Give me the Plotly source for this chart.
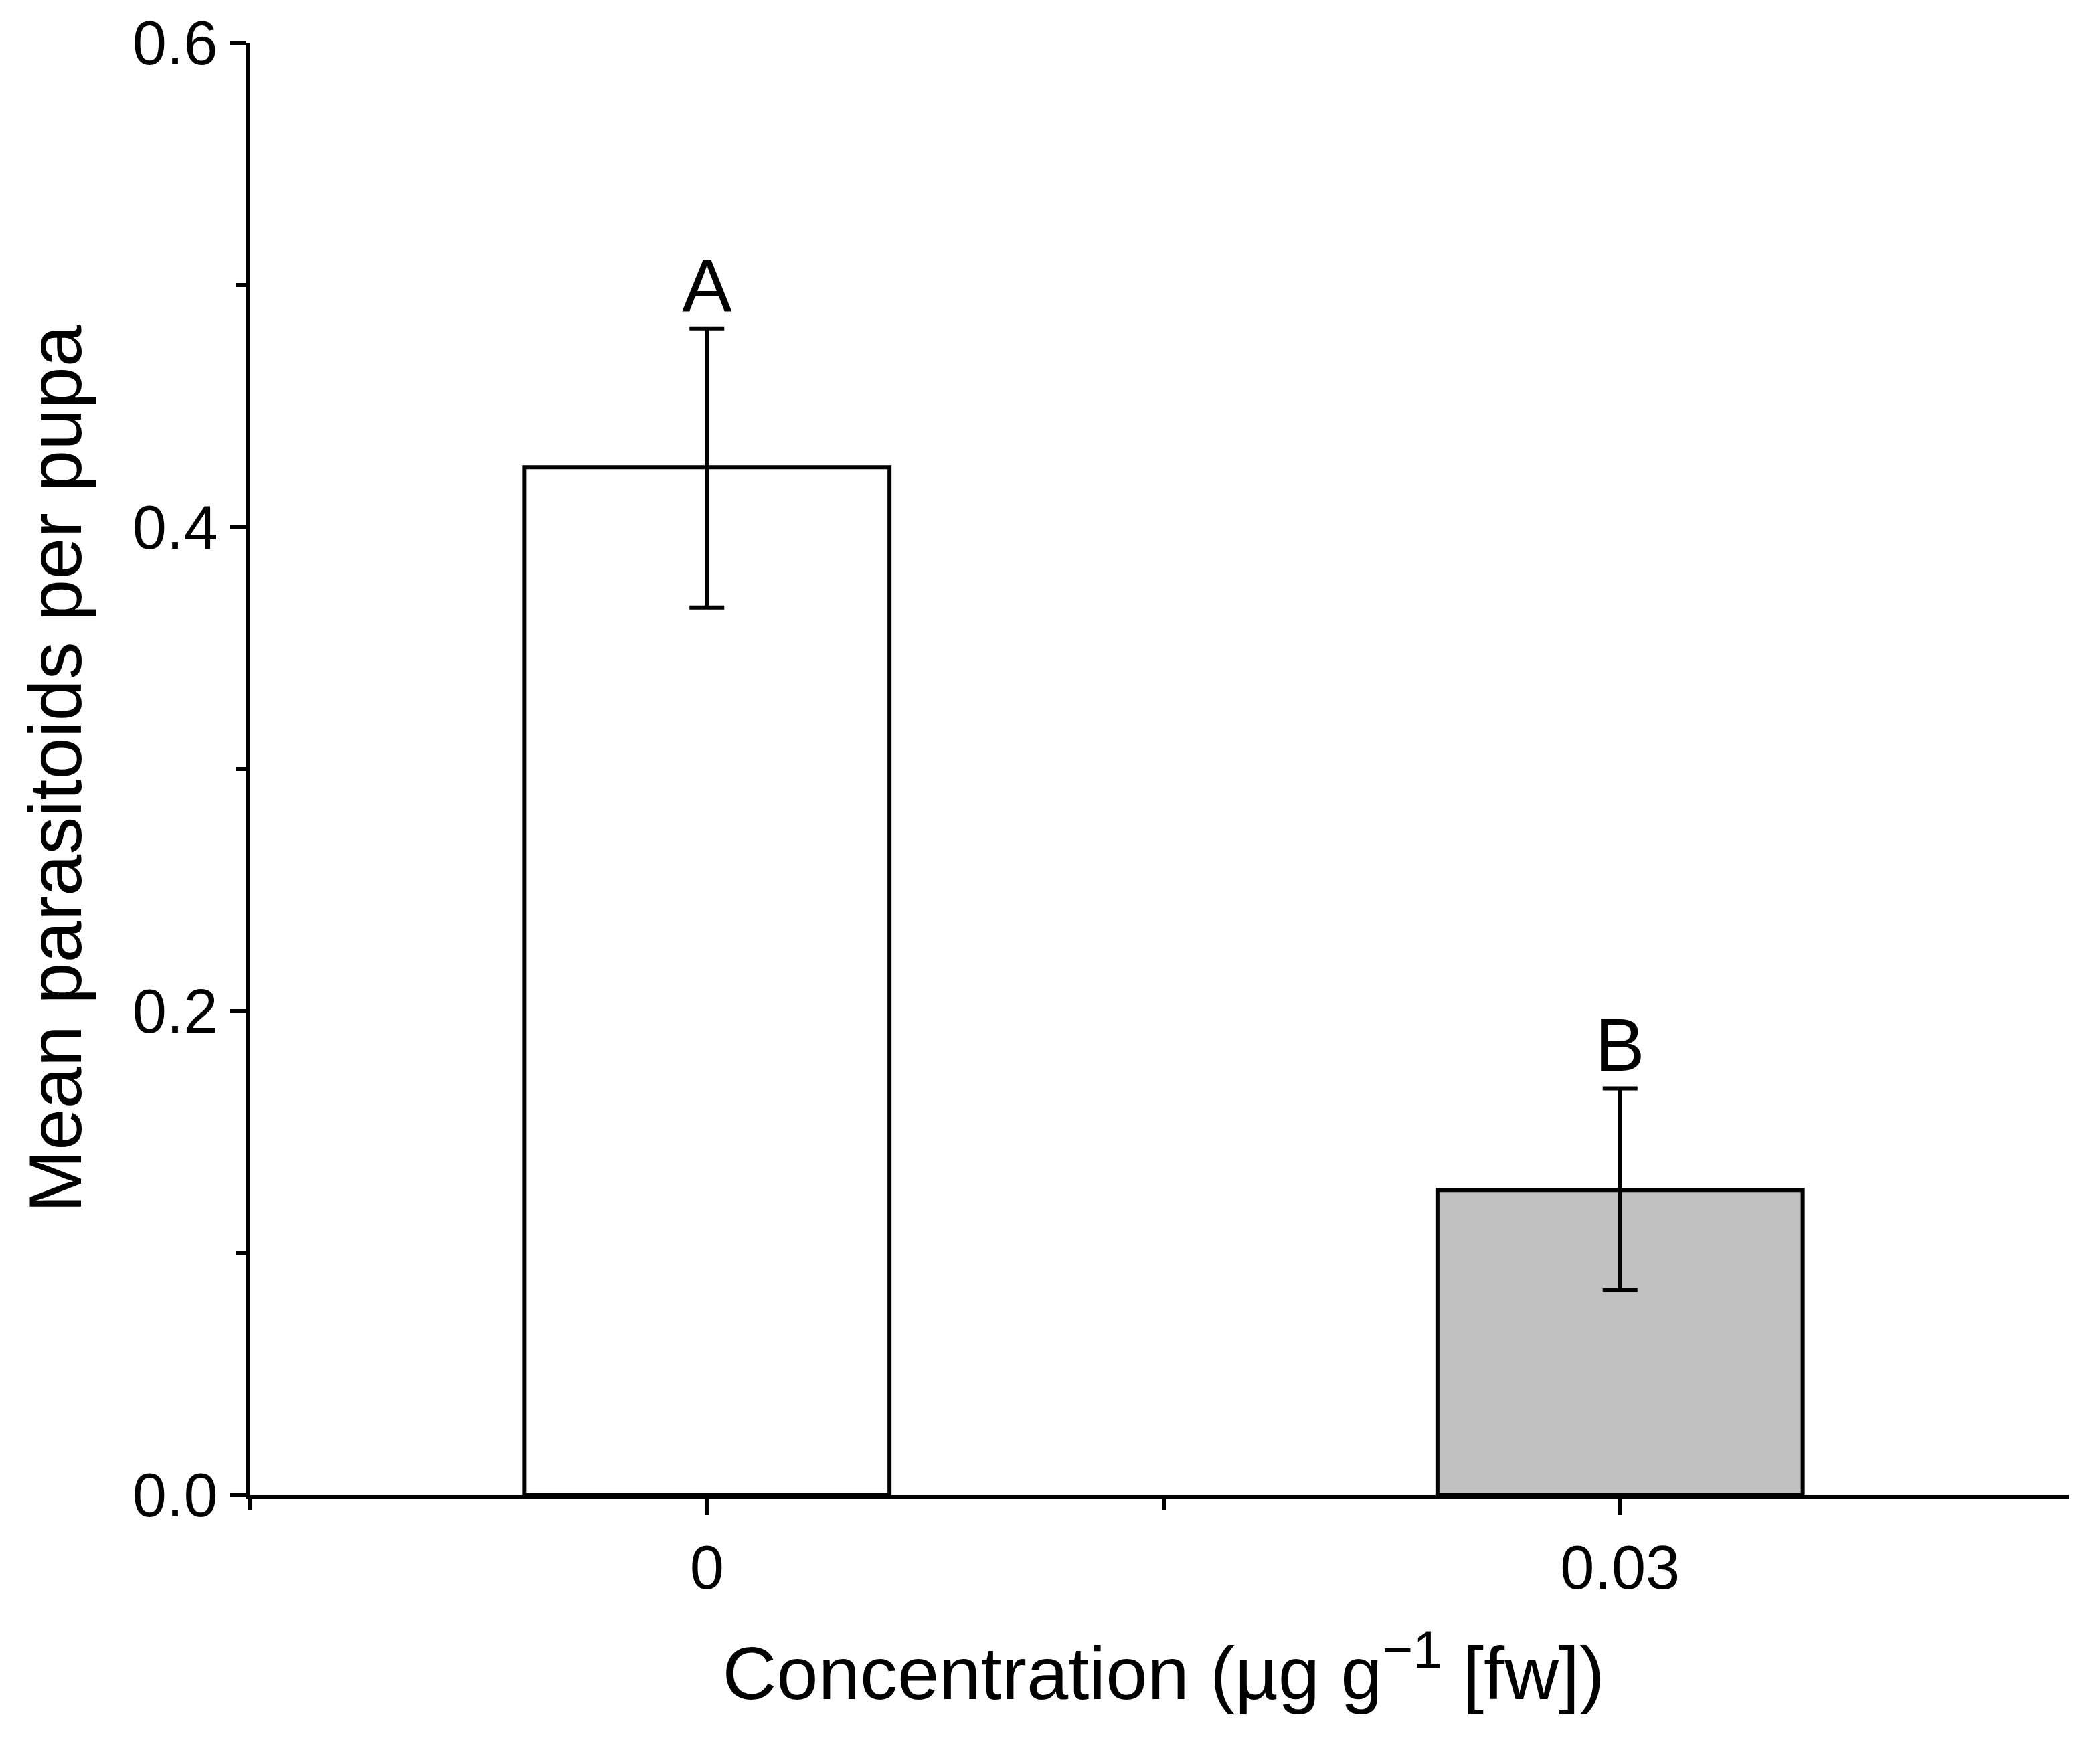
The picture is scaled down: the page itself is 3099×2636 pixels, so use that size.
import plotly.graph_objects as go

# values
categories = ["0", "0.03"]
xpos = [1, 3]
means = [0.4246, 0.126]
err_plus = [0.0574, 0.042]
err_minus = [0.0579, 0.0413]
letters = ["A", "B"]
colors = ["white", "#c0c0c0"]

fig = go.Figure()
fig.add_trace(go.Bar(
    x=xpos, y=means, width=0.8,
    marker=dict(color=colors, line=dict(color="black", width=6)),
    error_y=dict(type="data", symmetric=False, array=err_plus, arrayminus=err_minus,
                 color="black", thickness=6, width=26),
))
for x, m, e, t in zip(xpos, means, err_plus, letters):
    fig.add_annotation(x=x, y=m + e, text=t, showarrow=False, yanchor="bottom",
                       yshift=0, font=dict(size=112, color="black"))

fig.update_layout(
    width=3099, height=2636,
    margin=dict(l=366, r=4, t=56, b=410),
    plot_bgcolor="white", paper_bgcolor="white",
    font=dict(family="Liberation Sans, Arial, sans-serif", color="black"),
    showlegend=False,
)
fig.update_xaxes(
    range=[0, 4], tickvals=xpos, ticktext=categories,
    ticks="outside", ticklen=24, tickwidth=6, tickcolor="black",
    minor=dict(tickvals=[0, 2, 4], ticks="outside", ticklen=16, tickwidth=6, tickcolor="black"),
    showline=True, linecolor="black", linewidth=6, showgrid=False, zeroline=False,
    tickfont=dict(size=92),
    title=dict(text="Concentration (µg g<sup>−1</sup> [fw])", font=dict(size=112), standoff=70),
)
fig.update_yaxes(
    range=[0, 0.6], tickvals=[0, 0.2, 0.4, 0.6], tickformat=".1f",
    ticks="outside", ticklen=24, tickwidth=6, tickcolor="black",
    minor=dict(dtick=0.1, ticks="outside", ticklen=16, tickwidth=6, tickcolor="black"),
    showline=True, linecolor="black", linewidth=6, showgrid=False, zeroline=False,
    tickfont=dict(size=92),
    title=dict(text="Mean parasitoids per pupa", font=dict(size=112), standoff=40),
)
fig.write_html("out.html")
